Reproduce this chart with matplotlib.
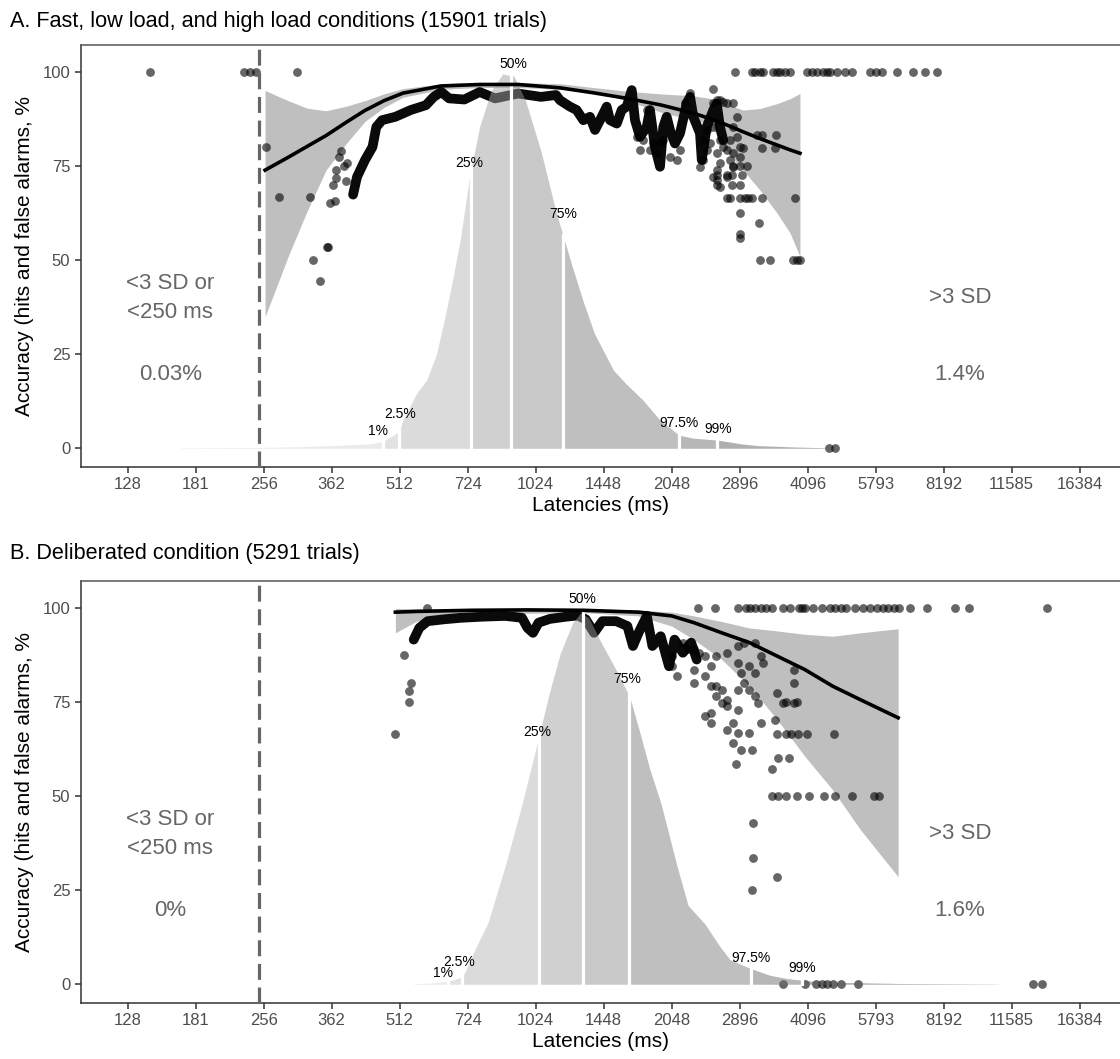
import numpy as np
import matplotlib
matplotlib.use("Agg")
import matplotlib.pyplot as plt
from matplotlib.ticker import NullLocator

plt.rcParams.update({"font.family": ["Liberation Sans", "DejaVu Sans"]})

# ---------------- shared axis data ----------------
x_ticks = [128, 181, 256, 362, 512, 724, 1024, 1448, 2048, 2896, 4096, 5793, 8192, 11585, 16384]
y_ticks = [0, 25, 50, 75, 100]
q_names = ["1%", "2.5%", "25%", "50%", "75%", "97.5%", "99%"]
cutoff_ms = 250

# latencies are stored as log2(ms)
# ---------------- panel A ----------------
a_title = "A. Fast, low load, and high load conditions (15901 trials)"
a_notes = ["<3 SD or\n<250 ms", "0.03%", ">3 SD", "1.4%"]
a_dens_lg = [7.385, 7.899, 8.267, 8.561, 8.782, 8.877, 8.995, 9.024, 9.125, 9.199, 9.270,
             9.333, 9.390, 9.447, 9.517, 9.588, 9.671, 9.757, 9.840, 9.925, 10.039,
             10.149, 10.263, 10.350, 10.432, 10.573, 10.669, 10.789, 10.914, 11.054,
             11.157, 11.333, 11.525, 11.635, 11.943, 12.237]
a_dens_y = [0.1, 0.2, 0.4, 0.8, 1.2, 1.8, 4.4, 7.5, 14.7, 18.2, 25.0, 35.0, 45.0, 56.0,
            73.0, 85.6, 95.0, 99.6, 99.0, 92.5, 79.0, 63.0, 49.0, 39.0, 30.5, 20.7, 17.0,
            12.8, 7.5, 3.5, 2.7, 2.2, 1.1, 0.7, 0.3, 0.05]
a_q_lg = [8.875, 8.997, 9.524, 9.818, 10.203, 11.054, 11.331]
a_qlab_lg = [8.840, 9.002, 9.510, 9.833, 10.201, 11.054, 11.340]
a_qlab_y = [4.6, 9.1, 75.9, 102.2, 62.3, 6.7, 5.1]
a_fit_lg = [8.010, 8.179, 8.318, 8.458, 8.605, 8.745, 8.885, 9.024, 9.304, 9.590, 9.870,
            10.179, 10.421, 10.671, 10.914, 11.157, 11.282, 11.407, 11.525, 11.649,
            11.774, 11.870, 11.943]
a_fit = [74.0, 77.4, 80.3, 83.2, 86.7, 89.9, 92.5, 94.5, 96.4, 96.8, 96.8, 95.9, 94.6,
         93.1, 91.4, 89.2, 87.7, 86.0, 84.2, 82.4, 80.7, 79.4, 78.5]
a_fit_lo = [35.0, 51.0, 63.0, 74.0, 81.0, 87.0, 90.7, 93.4, 95.5, 96.0, 96.0, 95.5, 94.8,
            92.5, 89.5, 87.3, 86.4, 79.0, 74.0, 68.7, 62.6, 57.3, 51.0]
a_fit_hi = [95.2, 92.5, 90.5, 89.8, 91.0, 92.5, 94.3, 95.7, 97.0, 97.3, 97.3, 97.0, 96.0,
            95.0, 94.3, 93.8, 93.1, 91.5, 90.0, 90.4, 91.7, 93.0, 94.4]
# dense run of overlapping trials
a_run_lg = [8.657, 8.686, 8.745, 8.800, 8.828, 8.870, 8.968, 9.081, 9.193, 9.250, 9.306,
            9.363, 9.475, 9.588, 9.701, 9.870, 10.039, 10.149, 10.179, 10.252, 10.301,
            10.350, 10.399, 10.436, 10.473, 10.522, 10.546, 10.596, 10.632, 10.669,
            10.706, 10.730, 10.767, 10.816, 10.840, 10.877, 10.914, 10.938, 10.963,
            10.987, 11.024, 11.061, 11.110, 11.135, 11.159, 11.208, 11.221, 11.257,
            11.306, 11.331, 11.355, 11.379]
a_run_y = [67.5, 72.2, 76.7, 80.2, 85.5, 87.3, 88.2, 90.0, 91.3, 93.5, 94.8, 93.1, 92.8,
           94.8, 93.1, 94.4, 93.5, 94.0, 92.6, 90.9, 90.0, 87.3, 88.2, 84.7, 87.3, 90.9,
           87.3, 86.4, 90.0, 90.9, 95.3, 87.3, 82.9, 85.5, 90.0, 80.2, 74.9, 85.5, 88.2,
           84.7, 81.1, 83.8, 91.7, 93.5, 88.2, 83.8, 76.7, 85.5, 90.0, 91.7, 85.5, 82.0]
a_top_lg = [7.164, 7.855, 7.899, 7.943, 8.245, 11.465, 11.588, 11.612, 11.649, 11.671,
            11.745, 11.772, 11.796, 11.833, 11.870, 11.993, 12.029, 12.066, 12.113,
            12.140, 12.164, 12.213, 12.274, 12.326, 12.458, 12.502, 12.546, 12.657,
            12.774, 12.862, 12.951]
a_zero_lg = [12.156, 12.201]
a_points = [(8.017, 80.2), (8.110, 66.9), (8.337, 66.9), (8.363, 50.1), (8.414, 44.6),
            (8.462, 53.6), (8.473, 53.6), (8.488, 65.2), (8.524, 65.7), (8.510, 70.0),
            (8.532, 74.0), (8.554, 77.5), (8.568, 79.0), (8.590, 75.0), (8.605, 71.0),
            (8.612, 76.0), (8.532, 72.0),
            (11.404, 66.7), (11.429, 66.7), (11.502, 66.7), (11.539, 66.7), (11.563, 66.7),
            (11.588, 66.7), (11.662, 66.7), (11.906, 66.7),
            (11.649, 50), (11.722, 50), (11.891, 50), (11.921, 50), (11.943, 50),
            (11.451, 75), (11.502, 75), (11.554, 75),
            (11.331, 72.7), (11.407, 72.7), (11.444, 72.7), (11.517, 72.7),
            (11.331, 70), (11.444, 70), (11.502, 70),
            (11.527, 80), (11.662, 80), (11.760, 80),
            (11.625, 83.3), (11.662, 83.3), (11.767, 83.3),
            (11.644, 60), (11.502, 57.1), (11.502, 62.5), (11.502, 55.9),
            (11.306, 95.7), (11.306, 91.8), (11.331, 92.6), (11.355, 92.6), (11.379, 92.2),
            (11.404, 91.8), (11.453, 91.8), (11.478, 88.2), (11.453, 85.5), (11.478, 82.9),
            (11.429, 82.0), (11.379, 80.2), (11.404, 79.3), (11.453, 78.5), (11.502, 80.2),
            (11.502, 77.6), (11.331, 78.5), (11.355, 75.8), (11.331, 74.0), (11.306, 72.2),
            (11.331, 71.4), (11.355, 69.6), (11.429, 76.7), (11.453, 74.9), (11.404, 72.2),
            (11.355, 82.0), (11.282, 81.1), (11.257, 79.3), (11.232, 76.7), (11.208, 74.9),
            (11.232, 82.0), (11.306, 85.5), (11.257, 84.7), (11.135, 94.4), (11.098, 91.8),
            (11.061, 79.3), (11.037, 76.7), (10.987, 77.6), (10.938, 82.0), (10.914, 81.1),
            (10.890, 78.5), (10.865, 81.1), (10.840, 79.3), (10.791, 82.0), (10.743, 82.9),
            (10.767, 79.3), (10.816, 90.0)]

# ---------------- panel B ----------------
b_title = "B. Deliberated condition (5291 trials)"
b_notes = ["<3 SD or\n<250 ms", "0%", ">3 SD", "1.6%"]
b_dens_lg = [9.10, 9.25, 9.37, 9.46, 9.48, 9.55, 9.65, 9.78, 9.90, 10.01, 10.10, 10.18,
             10.27, 10.33, 10.39, 10.47, 10.59, 10.69, 10.76, 10.84, 10.92, 11.04, 11.12,
             11.245, 11.355, 11.43, 11.58, 11.72, 11.85, 12.09, 12.68, 13.40]
b_dens_y = [0.1, 0.35, 0.9, 2.0, 3.3, 9.0, 16.5, 32.0, 48.0, 64.0, 77.5, 88.0, 96.0, 98.8,
            97.5, 91.7, 83.7, 76.6, 67.7, 57.1, 48.2, 31.3, 21.0, 16.0, 10.0, 6.5, 4.2,
            2.4, 1.5, 0.6, 0.2, 0.05]
b_q_lg = [9.357, 9.456, 10.027, 10.350, 10.686, 11.583, 11.958]
b_qlab_lg = [9.318, 9.436, 10.010, 10.340, 10.671, 11.583, 11.958]
b_qlab_y = [2.9, 5.9, 67.2, 102.4, 81.1, 6.9, 4.3]
b_fit_lg = [8.968, 9.124, 9.531, 9.940, 10.348, 10.756, 11.000, 11.164, 11.368, 11.572,
            11.776, 11.980, 12.184, 12.388, 12.665]
b_fit = [99.0, 99.2, 99.5, 99.6, 99.5, 99.0, 98.0, 96.2, 93.5, 90.9, 87.3, 83.7, 79.3,
         75.7, 70.9]
b_fit_lo = [93.5, 96.6, 98.4, 98.7, 98.9, 98.0, 95.3, 91.7, 86.4, 79.3, 70.4, 60.6, 51.7,
            41.1, 28.6]
b_fit_hi = [100.0, 99.9, 99.8, 99.8, 99.8, 99.6, 99.0, 98.0, 96.5, 94.8, 94.0, 93.1, 92.6,
            93.5, 94.6]
b_run_lg = [9.103, 9.144, 9.205, 9.327, 9.450, 9.613, 9.776, 9.899, 9.940, 9.980, 10.021,
            10.103, 10.225, 10.307, 10.368, 10.429, 10.490, 10.592, 10.674, 10.715,
            10.756, 10.817, 10.858, 10.919, 10.980, 11.021, 11.082, 11.143, 11.184]
b_run_y = [91.7, 94.8, 96.6, 97.1, 97.5, 97.8, 98.0, 97.5, 94.8, 93.5, 96.2, 97.2, 97.8,
           98.1, 97.1, 93.5, 96.6, 96.6, 95.3, 90.0, 93.5, 98.0, 90.0, 92.6, 84.6, 91.7,
           88.2, 90.9, 86.4]
b_top_lg = [9.197, 11.193, 11.318, 11.487, 11.543, 11.577, 11.613, 11.653, 11.693, 11.735,
            11.816, 11.870, 11.939, 11.958, 11.980, 12.039, 12.102, 12.164, 12.201, 12.245,
            12.285, 12.348, 12.407, 12.458, 12.510, 12.551, 12.590, 12.632, 12.671,
            12.752, 12.877, 13.082, 13.183, 13.763]
b_zero_lg = [11.816, 11.980, 12.061, 12.102, 12.142, 12.184, 12.245, 12.367, 13.653, 13.726]
b_points = [(11.735, 50), (11.782, 50), (11.837, 50), (11.918, 50), (12.010, 50),
            (12.120, 50), (12.204, 50), (12.326, 50), (12.488, 50), (12.522, 50),
            (8.968, 66.7), (11.774, 66.7), (11.837, 66.7), (11.877, 66.7), (11.929, 66.7),
            (11.992, 66.7), (12.192, 66.7),
            (9.034, 87.7), (9.083, 80.2), (9.070, 77.9), (9.070, 75.0),
            (11.837, 75), (11.918, 75), (11.898, 83.6), (11.898, 80.1), (11.784, 60.1),
            (11.866, 60.1), (11.735, 57.3), (11.470, 58.7), (11.592, 25.1), (11.600, 33.5),
            (11.600, 43.0), (11.776, 28.6),
            (11.164, 89.1), (11.204, 88.2), (11.245, 87.3), (11.286, 84.6), (11.245, 81.9),
            (11.286, 79.3), (11.327, 76.6), (11.368, 74.8), (11.245, 71.3), (11.286, 69.5),
            (11.327, 87.3), (11.408, 88.2), (11.490, 90.0), (11.531, 90.9), (11.490, 85.5),
            (11.511, 82.8), (11.572, 84.6), (11.531, 80.2), (11.572, 78.4), (11.613, 76.6),
            (11.633, 74.8), (11.490, 73.1), (11.449, 69.5), (11.490, 66.9), (11.449, 64.2),
            (11.511, 62.4), (11.592, 62.4), (11.327, 79.3), (11.368, 78.4), (11.408, 74.0),
            (11.408, 75.7), (11.490, 78.4), (11.613, 82.8), (11.653, 87.3), (11.613, 90.9),
            (11.674, 85.5), (11.000, 84.6), (11.041, 81.9), (11.000, 87.3), (11.082, 90.9),
            (11.123, 89.1), (11.164, 83.7), (11.164, 80.2), (11.286, 72.2), (11.408, 67.7),
            (11.572, 66.9), (11.653, 69.5), (11.776, 77.5), (11.756, 70.4), (11.817, 74.8),
            (11.898, 74.8)]

# grey level of each quantile band of the density (as seen on white)
SHADES = [0.92, 0.89, 0.86, 0.82, 0.79, 0.75, 0.72, 0.69]
NOTE_C = "#666666"


def ms(v):
    return 2.0 ** np.asarray(v, dtype=float)


def panel(ax, d_lg, d_y, q_lg, ql_lg, ql_y, f_lg, f, lo, hi, r_lg, r_y,
          top_lg, zero_lg, pts, notes):
    ax.fill_between(ms(f_lg), lo, hi, color="#BFBFBF", lw=0, zorder=1)
    ax.plot(ms(r_lg), r_y, color="#0a0a0a", lw=7, solid_capstyle="round",
            solid_joinstyle="round", zorder=2)
    px = list(top_lg) + list(zero_lg) + [p[0] for p in pts]
    py = [100] * len(top_lg) + [0] * len(zero_lg) + [p[1] for p in pts]
    ax.scatter(ms(px), py, s=40, color="black", alpha=0.6, lw=0, zorder=2)
    # density split at quantiles (semi-transparent, lies over the points)
    bounds = [d_lg[0]] + list(q_lg) + [d_lg[-1]]
    for i in range(len(bounds) - 1):
        a, b = bounds[i], bounds[i + 1]
        xs = [a] + [v for v in d_lg if a < v < b] + [b]
        ys = np.interp(xs, d_lg, d_y)
        c = 2 * SHADES[i] - 1
        ax.fill_between(ms(xs), 0, ys, color=(c, c, c), alpha=0.5, lw=0, zorder=3)
    for q in q_lg:
        ax.plot([2 ** q] * 2, [0, np.interp(q, d_lg, d_y) + 0.5], color="white",
                lw=2.3, zorder=3.5)
    for lx, ly, name in zip(ql_lg, ql_y, q_names):
        ax.text(2 ** lx, ly, name, ha="center", va="center", fontsize=10, zorder=6)
    ax.plot(ms(f_lg), f, color="black", lw=2.6, zorder=5)
    ax.axvline(cutoff_ms, color="#666666", lw=2.3, dashes=(5, 2.4), zorder=4)
    ax.text(159, 40, notes[0], ha="center", va="center", fontsize=16,
            color=NOTE_C, linespacing=1.5)
    ax.text(159, 19.5, notes[1], ha="center", va="center", fontsize=16, color=NOTE_C)
    ax.text(8894, 40, notes[2], ha="center", va="center", fontsize=16, color=NOTE_C)
    ax.text(8894, 19.5, notes[3], ha="center", va="center", fontsize=16, color=NOTE_C)

    ax.set_xscale("log", base=2)
    ax.set_xlim(100.75, 20120)
    ax.set_xticks(x_ticks)
    ax.set_xticklabels([str(t) for t in x_ticks])
    ax.xaxis.set_minor_locator(NullLocator())
    ax.set_ylim(-4.9, 107.3)
    ax.set_yticks(y_ticks)
    ax.tick_params(length=4.5, width=1.1, color="#333333", labelcolor="#4d4d4d",
                   labelsize=12, pad=3)
    ax.spines["right"].set_visible(False)
    ax.spines["top"].set_color("#555555")
    for s in ["left", "bottom", "top"]:
        ax.spines[s].set_linewidth(1.1)
    for s in ["left", "bottom"]:
        ax.spines[s].set_color("#333333")
    ax.set_xlabel("Latencies (ms)", fontsize=15, labelpad=3)
    ax.set_ylabel("Accuracy (hits and false alarms, %", fontsize=15, labelpad=6)


fig = plt.figure(figsize=(11.2, 10.59), dpi=100)
axA = fig.add_axes([0.0721, 0.5593, 0.9279, 0.3982])
axB = fig.add_axes([0.0721, 0.0532, 0.9279, 0.3982])
panel(axA, a_dens_lg, a_dens_y, a_q_lg, a_qlab_lg, a_qlab_y, a_fit_lg, a_fit, a_fit_lo,
      a_fit_hi, a_run_lg, a_run_y, a_top_lg, a_zero_lg, a_points, a_notes)
panel(axB, b_dens_lg, b_dens_y, b_q_lg, b_qlab_lg, b_qlab_y, b_fit_lg, b_fit, b_fit_lo,
      b_fit_hi, b_run_lg, b_run_y, b_top_lg, b_zero_lg, b_points, b_notes)
fig.text(10 / 1120, 1 - 22 / 1059, a_title, fontsize=15.6, va="center")
fig.text(10 / 1120, 1 - 553 / 1059, b_title, fontsize=15.6, va="center")
fig.savefig("out.png", dpi=100)
